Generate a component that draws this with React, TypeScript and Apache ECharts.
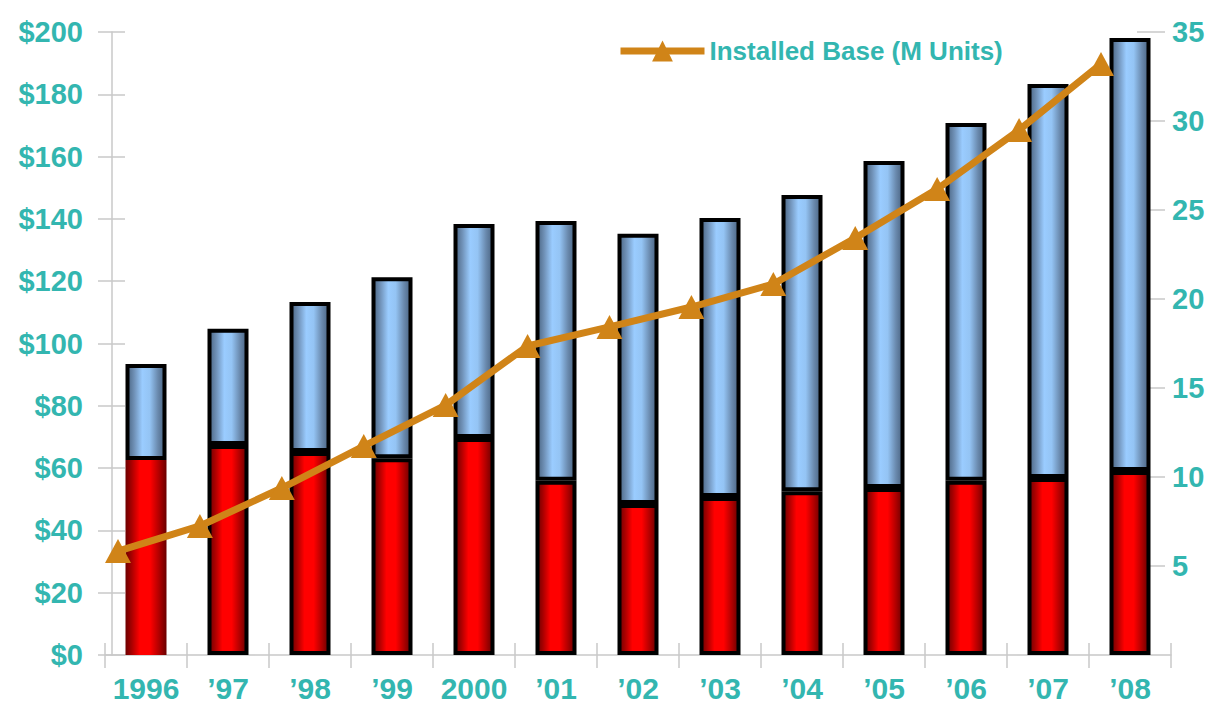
import React, { useEffect, useRef } from "react";
import * as echarts from "echarts";

const categories = ["1996", "\u201997", "\u201998", "\u201999", "2000", "\u201901", "\u201902", "\u201903", "\u201904", "\u201905", "\u201906", "\u201907", "\u201908"];
const redValues = [62.6, 67.4, 65.2, 63.2, 69.7, 55.9, 48.5, 50.7, 52.6, 53.6, 55.9, 56.8, 59.1];
const totalValues = [93.4, 104.7, 113.3, 121.3, 138.4, 139.3, 135.2, 140.3, 147.7, 158.6, 170.8, 183.3, 198.1];
const installedBase = [5.84, 7.25, 9.38, 11.74, 14.04, 17.36, 18.43, 19.55, 20.84, 23.43, 26.18, 29.49, 33.2];
const leftTicks = { min: 0, max: 200, interval: 20 };
const rightTicks = { min: 0, max: 35, interval: 5 };
const lineName = "Installed Base (M Units)";

const TEAL = "#33B6B0";
const ORANGE = "#D08418";
const AXIS_GRAY = "#C8C8C8";
const FONT = "'Liberation Sans', Arial, sans-serif";

const redGrad = new echarts.graphic.LinearGradient(0, 0, 1, 0, [
  { offset: 0, color: "#6E0000" },
  { offset: 0.15, color: "#A80000" },
  { offset: 0.35, color: "#FF0000" },
  { offset: 0.6, color: "#FF0000" },
  { offset: 0.82, color: "#B00000" },
  { offset: 1, color: "#6A0000" },
]);
const blueGrad = new echarts.graphic.LinearGradient(0, 0, 1, 0, [
  { offset: 0, color: "#4B6684" },
  { offset: 0.18, color: "#6F90B6" },
  { offset: 0.4, color: "#9ACCFF" },
  { offset: 0.6, color: "#94C4F4" },
  { offset: 0.82, color: "#6A8AAE" },
  { offset: 1, color: "#4A6482" },
]);

export default function App() {
  const ref = useRef<HTMLDivElement>(null);
  useEffect(() => {
    if (!ref.current) return;
    const chart = echarts.init(ref.current, null, { renderer: "svg" });
    const blueValues = totalValues.map((t, i) => +(t - redValues[i]).toFixed(2));
    const labelStyle = { color: TEAL, fontFamily: FONT, fontWeight: "bold" as const, fontSize: 29 };
    chart.setOption({
      animation: false,
      backgroundColor: "#ffffff",
      legend: {
        data: [lineName],
        left: 612,
        top: 33,
        itemWidth: 84,
        itemHeight: 26,
        itemGap: 10,
        lineStyle: { width: 7 },
        textStyle: { color: TEAL, fontFamily: FONT, fontWeight: "bold", fontSize: 26 },
      },
      grid: [
        { left: 105, right: 38, top: 32, bottom: 48 },
        { left: 118, right: 108, top: 32, bottom: 48 },
      ],
      xAxis: [
        {
          type: "category",
          gridIndex: 0,
          data: categories,
          axisLine: { lineStyle: { color: AXIS_GRAY, width: 1.5 } },
          axisTick: { show: true, interval: 0, length: 13, lineStyle: { color: AXIS_GRAY, width: 1.5 } },
          axisLabel: { ...labelStyle, fontSize: 30, margin: 18, interval: 0 },
        },
        {
          type: "category",
          gridIndex: 0,
          position: "bottom",
          data: categories,
          axisLine: { show: false },
          axisTick: { show: true, interval: 0, inside: true, length: 12, lineStyle: { color: AXIS_GRAY, width: 1.5 } },
          axisLabel: { show: false },
        },
        {
          type: "category",
          gridIndex: 1,
          data: categories,
          boundaryGap: false,
          show: false,
        },
      ],
      yAxis: [
        {
          type: "value",
          gridIndex: 0,
          position: "left",
          offset: -7,
          ...leftTicks,
          splitLine: { show: false },
          axisLine: { show: true, lineStyle: { color: AXIS_GRAY, width: 1.5 } },
          axisTick: { show: true, length: 14, lineStyle: { color: AXIS_GRAY, width: 1.5 } },
          axisLabel: { ...labelStyle, margin: 29, formatter: (v: number) => "$" + v },
        },
        {
          type: "value",
          gridIndex: 0,
          position: "right",
          offset: -34,
          ...rightTicks,
          splitLine: { show: false },
          axisLine: { show: false },
          axisTick: { show: true, length: 28, lineStyle: { color: AXIS_GRAY, width: 1.5 } },
          axisLabel: { ...labelStyle, margin: 35, showMinLabel: false },
        },
        {
          type: "value",
          gridIndex: 0,
          position: "left",
          offset: -7,
          ...leftTicks,
          splitLine: { show: false },
          axisLine: { show: false },
          axisTick: { show: true, inside: true, length: 13, lineStyle: { color: AXIS_GRAY, width: 1.5 } },
          axisLabel: { show: false },
        },
        {
          type: "value",
          gridIndex: 1,
          ...rightTicks,
          show: false,
        },
      ],
      series: [
        {
          name: "Revenue",
          type: "bar",
          stack: "rev",
          xAxisIndex: 0,
          yAxisIndex: 0,
          barWidth: 41,
          data: redValues.map((v, i) =>
            i === 0
              ? { value: v, itemStyle: { color: redGrad, borderWidth: 0 } }
              : v
          ),
          itemStyle: { color: redGrad, borderColor: "#000000", borderWidth: 4 },
        },
        {
          name: "Other",
          type: "bar",
          stack: "rev",
          xAxisIndex: 0,
          yAxisIndex: 0,
          barWidth: 41,
          data: blueValues,
          itemStyle: { color: blueGrad, borderColor: "#000000", borderWidth: 4 },
        },
        {
          name: lineName,
          type: "line",
          xAxisIndex: 2,
          yAxisIndex: 3,
          data: installedBase,
          symbol: "triangle",
          symbolSize: [26, 24],
          lineStyle: { color: ORANGE, width: 7 },
          itemStyle: { color: ORANGE },
          z: 10,
        },
      ],
    });
    return () => chart.dispose();
  }, []);
  return <div ref={ref} style={{ width: 1209, height: 703, position: "absolute", left: 0, top: 0 }} />;
}
